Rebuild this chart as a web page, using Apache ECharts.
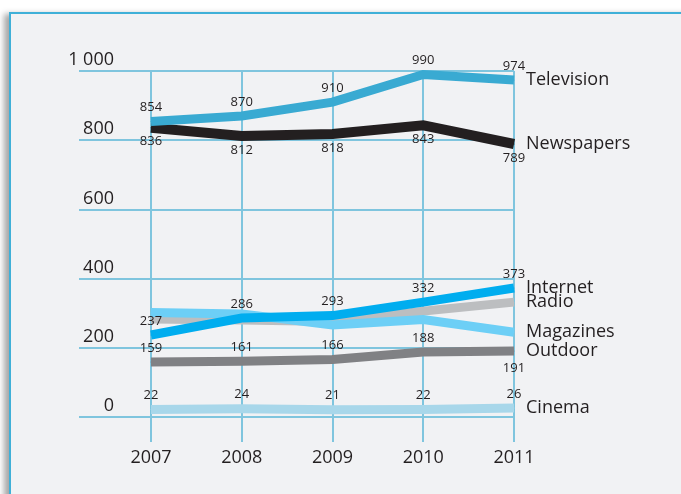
<!DOCTYPE html>
<html>
<head>
<meta charset="utf-8">
<script src="https://cdn.jsdelivr.net/npm/echarts@6/dist/echarts.min.js"></script>
<style>
  html, body { margin: 0; padding: 0; background: #ffffff; }
  #panel {
    position: absolute; left: 9px; top: 12px; width: 700px; height: 520px;
    background: #f1f2f4; border: 2px solid #3fb0d8; box-sizing: border-box;
    box-shadow: -5px 2px 6px rgba(0,0,0,0.35);
  }
  #chart { position: absolute; left: 0; top: 0; width: 681px; height: 494px; }
</style>
</head>
<body>
<div id="panel"></div>
<div id="chart"></div>
<script>
var years = [2007, 2008, 2009, 2010, 2011];

var television = [854, 870, 910, 990, 974];
var newspapers = [836, 812, 818, 843, 789];
var internet   = [237, 286, 293, 332, 373];
var radio      = [283, 280, 276, 306, 332];
var magazines  = [302, 298, 266, 282, 245];
var outdoor    = [159, 161, 166, 188, 191];
var cinema     = [22, 24, 21, 22, 26];

var gridColor = '#7fc5de';
var textColor = '#231f20';
var font = '"Open Sans", "Noto Sans", sans-serif';

// one line series; labelPos null = no point labels
function line(name, values, color, width, labelPos, z) {
    var data = values.map(function (v, i) { return [years[i], v]; });
    return {
        name: name,
        type: 'line',
        z: z,
        data: data,
        symbol: 'circle',
        symbolSize: 1,
        itemStyle: { color: color },
        lineStyle: { color: color, width: width, cap: 'butt', join: 'miter' },
        label: {
            show: labelPos !== null,
            position: labelPos || 'top',
            distance: 7,
            color: textColor,
            fontFamily: font,
            fontSize: 13
        },
        endLabel: {
            show: true,
            formatter: name,
            distance: 12,
            color: textColor,
            fontFamily: font,
            fontSize: 18
        },
        emphasis: { disabled: true }
    };
}

var outdoorSeries = line('Outdoor', outdoor, '#808184', 9, 'top', 5);
outdoorSeries.data[4] = { value: outdoorSeries.data[4], label: { position: 'bottom', distance: 10 } };

var option = {
    animation: false,
    grid: { left: 79, right: 167, top: 71, bottom: 77 },
    xAxis: {
        type: 'value',
        min: 2006.207,
        max: 2011,
        splitNumber: 5,
        axisLine: { show: false },
        axisTick: {
            show: true, length: 25, customValues: years,
            lineStyle: { color: gridColor, width: 2 }
        },
        axisLabel: {
            customValues: years, margin: 32,
            color: textColor, fontFamily: font, fontSize: 18,
            formatter: function (v) { return String(v); }
        },
        splitLine: { show: true, lineStyle: { color: gridColor, width: 2 } }
    },
    yAxis: {
        type: 'value',
        min: 0,
        max: 1000,
        interval: 200,
        axisLine: { show: false },
        axisTick: { show: false },
        axisLabel: {
            inside: true, margin: 35, align: 'right', verticalAlign: 'bottom',
            padding: [0, 0, 2, 0],
            color: textColor, fontFamily: font, fontSize: 18,
            formatter: function (v) { return v === 1000 ? '1 000' : String(v); }
        },
        splitLine: { lineStyle: { color: gridColor, width: 2 } }
    },
    series: [
        line('Radio', radio, '#bcbec0', 9, null, 2),
        line('Magazines', magazines, '#6dcff6', 9, null, 3),
        line('Internet', internet, '#00adef', 9, 'top', 4),
        outdoorSeries,
        line('Cinema', cinema, '#a8d7ea', 9, 'top', 6),
        line('Newspapers', newspapers, '#231f20', 10, 'bottom', 7),
        line('Television', television, '#39aad2', 9, 'top', 8)
    ]
};

echarts.init(document.getElementById('chart')).setOption(option);
</script>
</body>
</html>
